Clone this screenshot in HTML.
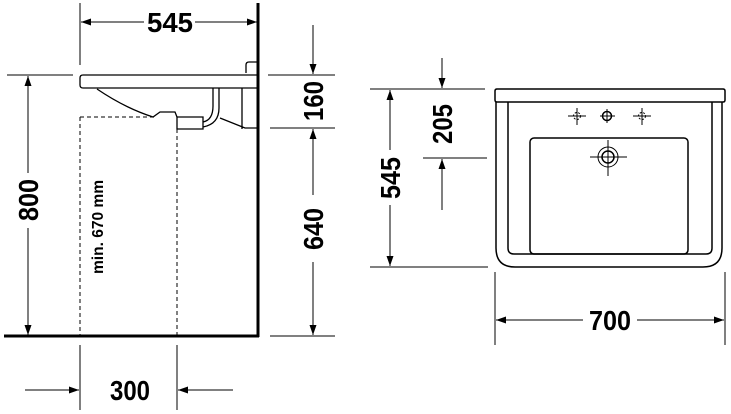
<!DOCTYPE html>
<html><head><style>
html,body{margin:0;padding:0;background:#fff;width:731px;height:414px;overflow:hidden}
svg text{font-family:"Liberation Sans",sans-serif;font-weight:bold;fill:#000}
</style></head><body>
<svg width="731" height="414" viewBox="0 0 731 414" xmlns="http://www.w3.org/2000/svg">
<defs>
<marker id="a" viewBox="0 0 10 10" refX="10" refY="5" markerWidth="10" markerHeight="10" markerUnits="userSpaceOnUse" orient="auto"><path d="M0,1.5 L10,5 L0,8.5 z" fill="#000"/></marker>
</defs>
<g stroke="#000" fill="none" stroke-width="1">
<line x1="258" y1="3" x2="258" y2="337" stroke-width="3"/>
<line x1="4" y1="336" x2="259" y2="336" stroke-width="3"/>
<line x1="80" y1="3" x2="80" y2="65"/>
<line x1="144" y1="22" x2="81" y2="22" marker-end="url(#a)"/>
<line x1="195" y1="22" x2="257" y2="22" marker-end="url(#a)"/>
<line x1="7" y1="75" x2="73" y2="75"/>
<line x1="28" y1="173" x2="28" y2="76" marker-end="url(#a)"/>
<line x1="28" y1="228" x2="28" y2="335" marker-end="url(#a)"/>
<path d="M83,75 H257 M83,88 H257 M83,75 Q80,75 80,78 V85 Q80,88 83,88" stroke-width="1.3"/>
<path d="M97,89 Q125,108 153,117 L160,112 H175 L177,117" stroke-width="1.3"/>
<path d="M177,117 V129 H203 V117 Z M203,127 Q219,124 219,108 V88 M203,122 Q213,120 213,106 V88" stroke-width="1.3"/>
<path d="M220,118 L245,128 H257 M242,88 V129 M246,73 V65 Q246,62 249,62 H257" stroke-width="1.3"/>
<path d="M80,117 H155 M80,117 V336 M177,129 V336" stroke-dasharray="4,3"/>
<line x1="80" y1="345" x2="80" y2="410"/>
<line x1="177" y1="345" x2="177" y2="410"/>
<line x1="25" y1="390" x2="79" y2="390" marker-end="url(#a)"/>
<line x1="233" y1="390" x2="178" y2="390" marker-end="url(#a)"/>
<line x1="313" y1="25" x2="313" y2="74" marker-end="url(#a)"/>
<line x1="268" y1="75" x2="335" y2="75"/>
<line x1="270" y1="128" x2="335" y2="128"/>
<line x1="313" y1="195" x2="313" y2="129" marker-end="url(#a)"/>
<line x1="313" y1="262" x2="313" y2="335" marker-end="url(#a)"/>
<line x1="270" y1="336" x2="335" y2="336"/>
<line x1="370" y1="89" x2="485" y2="89"/>
<line x1="370" y1="267" x2="488" y2="267"/>
<line x1="390" y1="150" x2="390" y2="90" marker-end="url(#a)"/>
<line x1="390" y1="205" x2="390" y2="266" marker-end="url(#a)"/>
<line x1="442" y1="58" x2="442" y2="88" marker-end="url(#a)"/>
<line x1="423" y1="158" x2="487" y2="158"/>
<line x1="442" y1="210" x2="442" y2="159" marker-end="url(#a)"/>
<line x1="495" y1="272" x2="495" y2="345"/>
<line x1="725" y1="272" x2="725" y2="345"/>
<line x1="583" y1="320" x2="496" y2="320" marker-end="url(#a)"/>
<line x1="637" y1="320" x2="724" y2="320" marker-end="url(#a)"/>
<g stroke-width="1.5">
<path d="M497,89 H723 Q725,89 725,91 V100 Q725,102 723,102 H497 Q495,102 495,100 V91 Q495,89 497,89 Z"/>
<path d="M496,102 V248 Q496,267 515,267 H703 Q722,267 722,248 V102"/>
<path d="M508,102 V248 Q508,254 514,254 H706 Q712,254 712,248 V102"/>
<rect x="530" y="138" width="158" height="116" rx="4"/>
</g>
<g stroke-width="1">
<circle cx="608" cy="157" r="10"/><circle cx="608" cy="157" r="6" stroke-width="1.5"/>
<path d="M590,157 H627 M608,140 V176"/>
<circle cx="607" cy="116" r="4.5" stroke-width="1.5"/><path d="M600,116 H615 M607,109 V123"/>
<circle cx="577" cy="116" r="3.5" stroke-dasharray="2,1.5"/><path d="M568,116 H586 M577,108 V125"/>
<circle cx="642" cy="116" r="3.5" stroke-dasharray="2,1.5"/><path d="M633,116 H651 M642,108 V125"/>
</g>
</g>
<g font-size="28">
<text x="170" y="32" text-anchor="middle" textLength="46" lengthAdjust="spacingAndGlyphs">545</text>
<text x="130" y="400" text-anchor="middle" textLength="40" lengthAdjust="spacingAndGlyphs">300</text>
<text x="610" y="330" text-anchor="middle" textLength="42" lengthAdjust="spacingAndGlyphs">700</text>
<text transform="translate(38,200) rotate(-90)" text-anchor="middle" textLength="42" lengthAdjust="spacingAndGlyphs">800</text>
<text transform="translate(323,101) rotate(-90)" text-anchor="middle" textLength="40" lengthAdjust="spacingAndGlyphs">160</text>
<text transform="translate(323,229) rotate(-90)" text-anchor="middle" textLength="42" lengthAdjust="spacingAndGlyphs">640</text>
<text transform="translate(400,178) rotate(-90)" text-anchor="middle" textLength="42" lengthAdjust="spacingAndGlyphs">545</text>
<text transform="translate(452,124) rotate(-90)" text-anchor="middle" textLength="40" lengthAdjust="spacingAndGlyphs">205</text>
</g>
<text transform="translate(103,227) rotate(-90)" text-anchor="middle" font-size="16" textLength="94" lengthAdjust="spacingAndGlyphs">min. 670 mm</text>
</svg>
</body></html>
